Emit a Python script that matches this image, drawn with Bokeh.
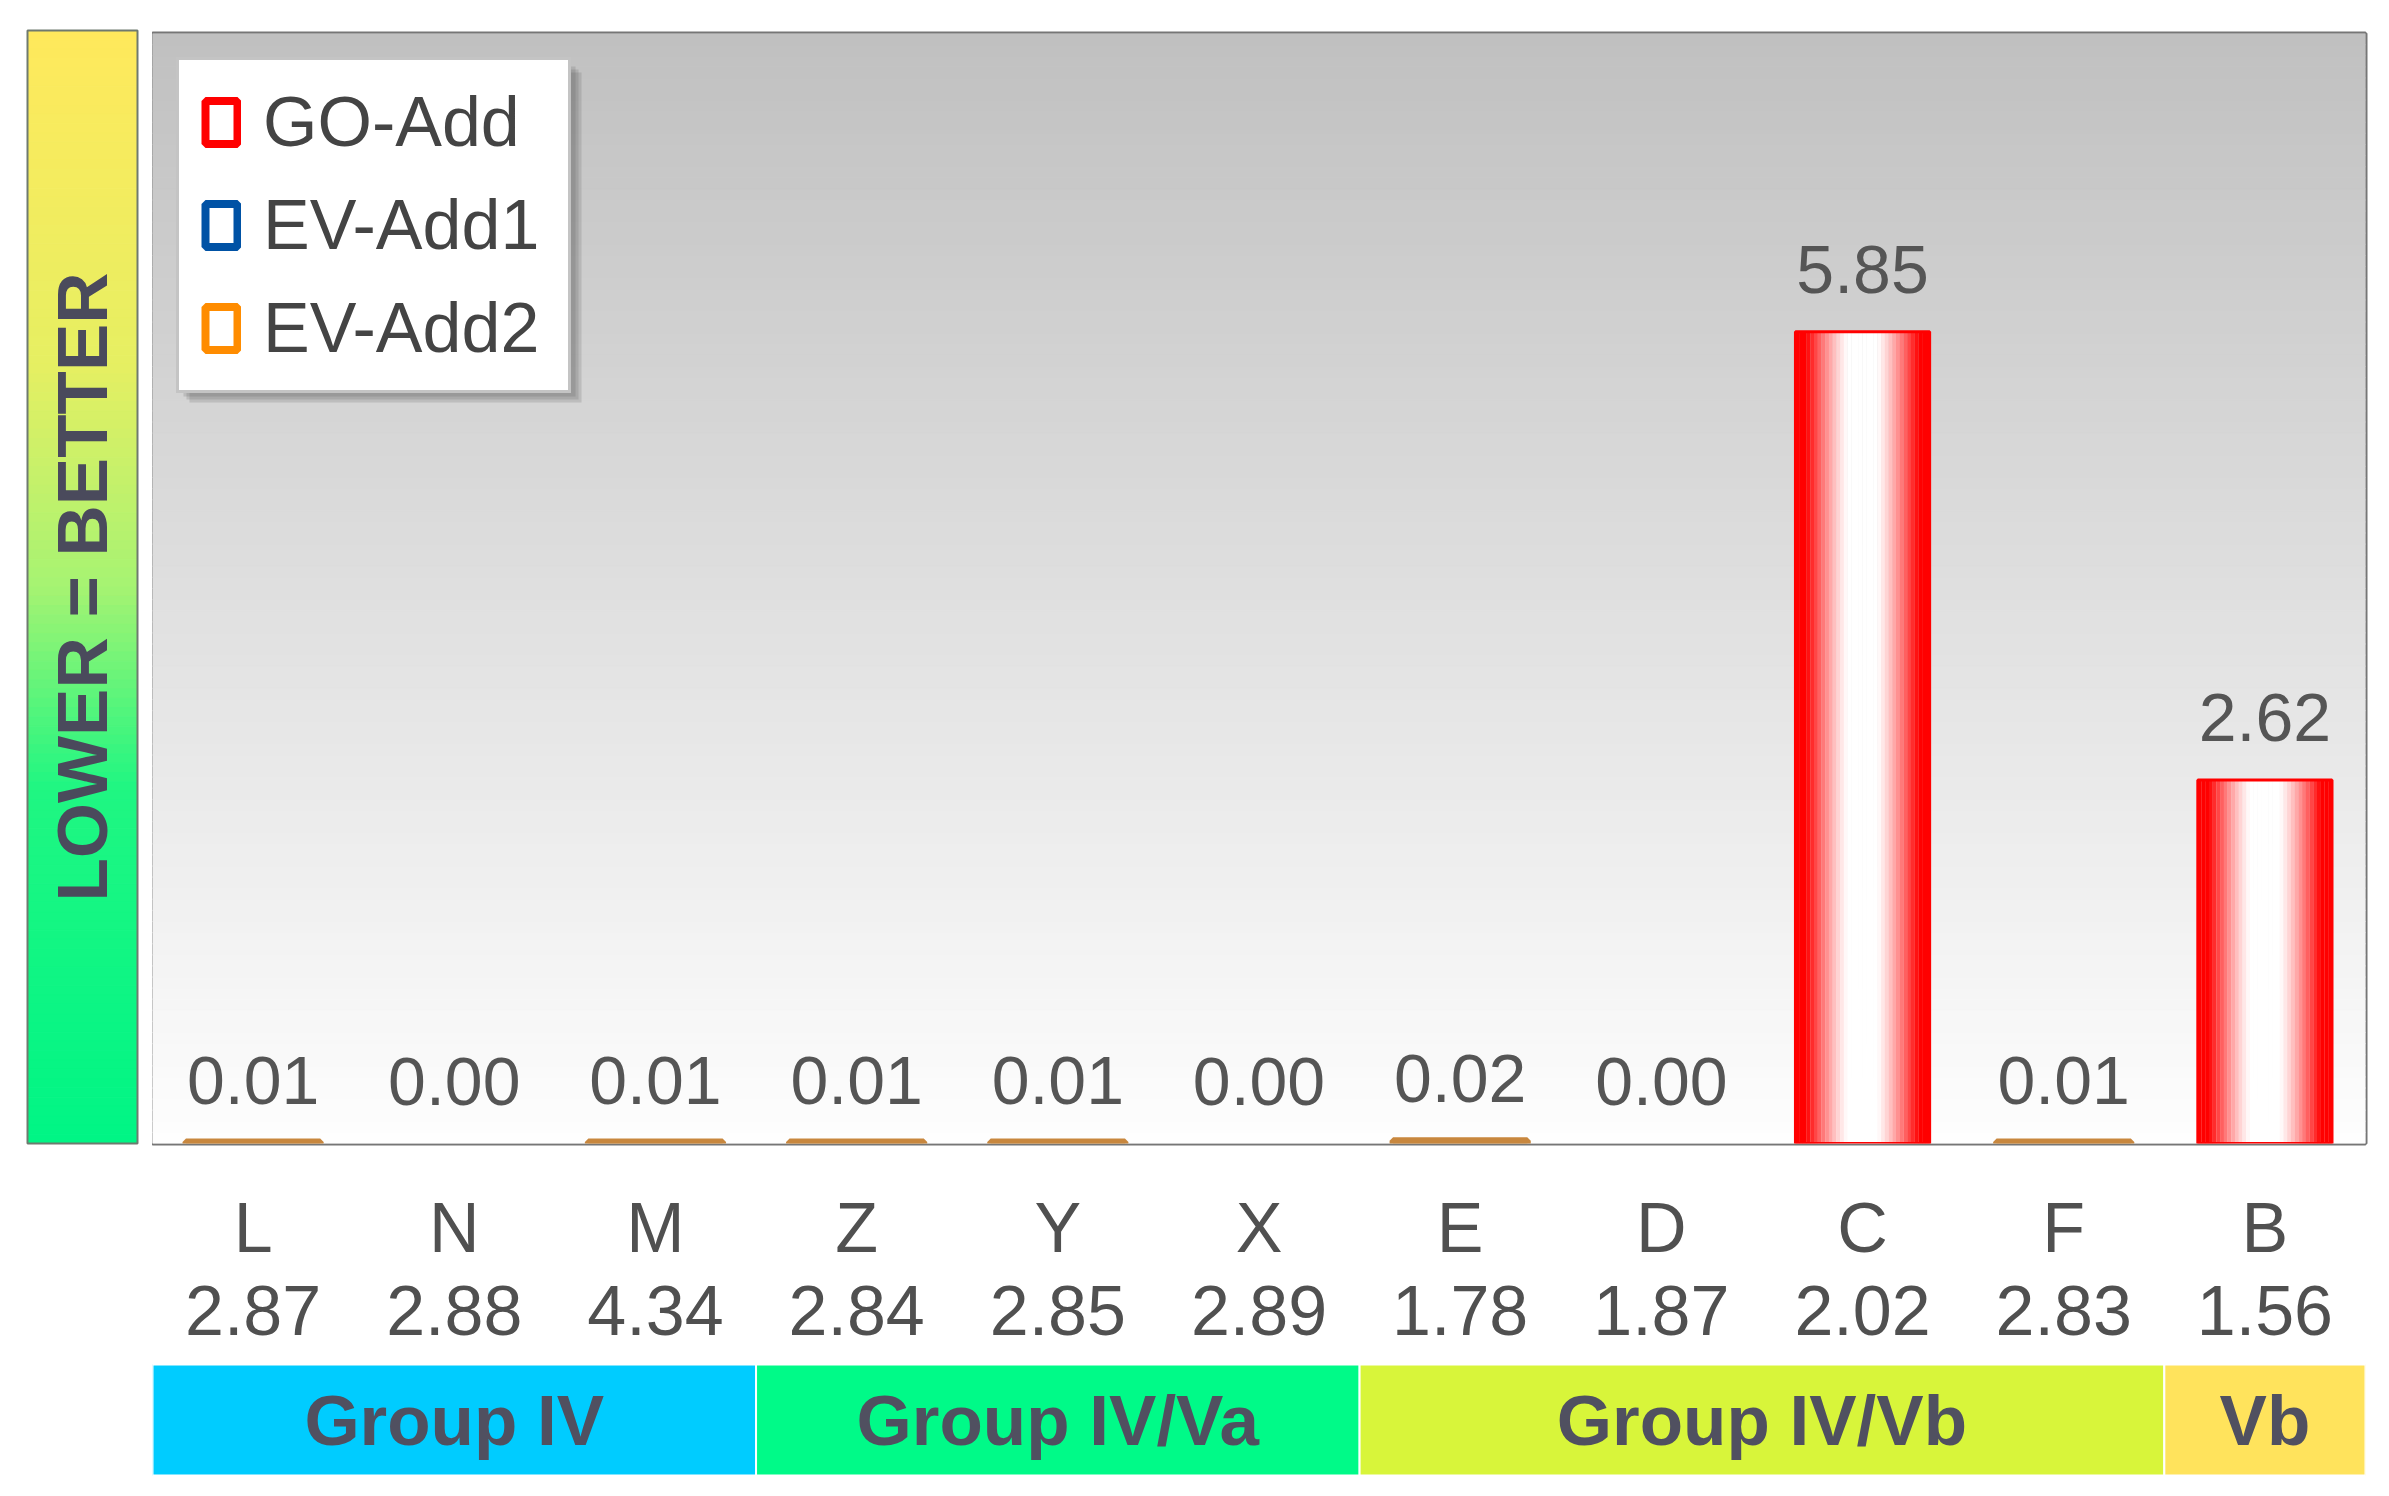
import numpy as np
from bokeh.plotting import figure
from bokeh.models import ColumnDataSource, Range1d, Legend, LegendItem
from bokeh.layouts import row, column
from bokeh.embed import file_html
from bokeh.resources import INLINE
from bokeh.core.properties import value

# ---------------- data ----------------
categories = ["L", "N", "M", "Z", "Y", "X", "E", "D", "C", "F", "B"]
bar_values = [0.01, 0.00, 0.01, 0.01, 0.01, 0.00, 0.02, 0.00, 5.85, 0.01, 2.62]
bar_series = ["EV-Add2"] * 8 + ["GO-Add", "EV-Add2", "GO-Add"]
category_scores = [2.87, 2.88, 4.34, 2.84, 2.85, 2.89, 1.78, 1.87, 2.02, 2.83, 1.56]
group_names = ["Group IV", "Group IV/Va", "Group IV/Vb", "Vb"]
group_sizes = [3, 3, 4, 1]
group_colors = ["#00CCFF", "#00FA88", "#D8F53A", "#FFE35C"]
series_names = ["GO-Add", "EV-Add1", "EV-Add2"]
series_colors = ["#FF0000", "#0052A5", "#FF8C00"]
small_bar_color = "#C8873E"
y_max = 8
side_label = "LOWER = BETTER"

FONT = "Liberation Sans"


def hex2rgb(h):
    h = h.lstrip("#")
    return np.array([int(h[i:i + 2], 16) for i in (0, 2, 4)], dtype=float)


def mix(c1, c2, t):
    a, b = hex2rgb(c1), hex2rgb(c2)
    c = a + (b - a) * t
    return "#%02x%02x%02x" % tuple(int(round(v)) for v in c)


n_cat = len(categories)
centers = [i + 0.5 for i in range(n_cat)]
bar_w = 0.667

# frame geometry (pixels)
FRAME_W, FRAME_H = 2213, 1110
px_x = n_cat / FRAME_W
px_y = y_max / FRAME_H

# ---------------- main plot ----------------
p = figure(width=2229, height=1150, x_range=Range1d(0, n_cat), y_range=Range1d(0, y_max),
           output_backend="svg", toolbar_location=None,
           x_axis_location=None, y_axis_location=None,
           min_border_left=0, min_border_right=16, min_border_top=33, min_border_bottom=7)
p.grid.visible = False
p.outline_line_color = "#767676"
p.outline_line_width = 4
p.background_fill_color = "white"
p.border_fill_color = "white"

# vertical gray gradient background
nstr = 100
edges = np.linspace(0, y_max, nstr + 1)
bg = ColumnDataSource(dict(
    left=[0] * nstr, right=[n_cat] * nstr,
    bottom=edges[:-1], top=edges[1:],
    color=[mix("#FEFEFE", "#C0C0C0", (edges[k] + edges[k + 1]) / 2 / y_max) for k in range(nstr)]))
p.quad(left="left", right="right", bottom="bottom", top="top", fill_color="color",
       line_color="color", line_width=1, source=bg)

# GO-Add bars: horizontal red-white-red gradient
ns = 36
sx, stop, sw, sc = [], [], [], []
for i, (v, s) in enumerate(zip(bar_values, bar_series)):
    if s != "GO-Add":
        continue
    for k in range(ns):
        f = (k + 0.5) / ns
        t = abs(f - 0.5) * 2
        inten = min(1.0, max(0.0, (t - 0.22) / 0.62)) ** 1.2
        sx.append(centers[i] - bar_w / 2 + f * bar_w)
        stop.append(v)
        sw.append(bar_w / ns * 1.05)
        sc.append(mix("#FFFFFF", "#FF0000", inten))
p.vbar(x=sx, top=stop, width=sw, bottom=0, fill_color=sc, line_color=None)
go_x = [centers[i] for i, s in enumerate(bar_series) if s == "GO-Add"]
go_v = [bar_values[i] for i, s in enumerate(bar_series) if s == "GO-Add"]
p.vbar(x=go_x, top=go_v, width=bar_w, bottom=0, fill_color=None, line_color="#FF0000", line_width=3)

# small bars
sm_x = [centers[i] for i, s in enumerate(bar_series) if s != "GO-Add" and bar_values[i] > 0]
sm_v = [bar_values[i] for i, s in enumerate(bar_series) if s != "GO-Add" and bar_values[i] > 0]
p.vbar(x=sm_x, top=sm_v, width=bar_w, bottom=0, fill_color=small_bar_color,
       line_color=small_bar_color, line_width=7)

# value labels
p.text(x=centers, y=bar_values, text=["%.2f" % v for v in bar_values],
       text_align="center", text_baseline="middle", y_offset=-62,
       text_font=value(FONT), text_font_size="68px", text_color="#555555")

# legend drop shadow (decorative, pixel offsets inside the frame)
lg_l, lg_t, lg_w, lg_h = 26, 28, 392, 330
for k, off in enumerate([11, 8, 5]):
    p.quad(left=[(lg_l + off) * px_x], right=[(lg_l + lg_w + off) * px_x],
           top=[y_max - (lg_t + off) * px_y], bottom=[y_max - (lg_t + lg_h + off) * px_y],
           fill_color="#555555", fill_alpha=0.18, line_color=None)

# legend (dummy renderers with no visible data)
items = []
for name, col in zip(series_names, series_colors):
    r = p.vbar(x=[float("nan")], top=[float("nan")], width=0.5, fill_color="white",
               line_color=col, line_width=8)
    items.append(LegendItem(label=name, renderers=[r]))
legend = Legend(items=items, location="top_left", margin=24, padding=22, spacing=23,
                glyph_width=40, glyph_height=54, label_height=80, label_width=283,
                label_standoff=22,
                label_text_font=FONT, label_text_font_size="70px", label_text_color="#444444",
                border_line_color="#8a8a8a", border_line_width=3,
                background_fill_color="white", background_fill_alpha=1.0)
p.add_layout(legend)

# ---------------- left strip ----------------
lf = figure(width=152, height=1150, x_range=Range1d(0, 152), y_range=Range1d(1150, 0),
            output_backend="svg", toolbar_location=None,
            x_axis_location=None, y_axis_location=None, min_border=0)
lf.grid.visible = False
lf.outline_line_color = None
lf.border_fill_color = "white"
lf.background_fill_color = "white"
s_top, s_bot, s_l, s_r = 30, 1143, 27, 137
stops = [(0.0, "#FFE95C"), (0.3, "#E6EF62"), (0.5, "#A6F372"), (0.68, "#20F682"), (1.0, "#00F585")]


def grad(t):
    for (t0, c0), (t1, c1) in zip(stops[:-1], stops[1:]):
        if t <= t1:
            return mix(c0, c1, (t - t0) / (t1 - t0))
    return stops[-1][1]


nl = 120
ye = np.linspace(s_top, s_bot, nl + 1)
lf.quad(left=[s_l] * nl, right=[s_r] * nl, top=ye[:-1], bottom=ye[1:],
        fill_color=[grad((k + 0.5) / nl) for k in range(nl)],
        line_color=[grad((k + 0.5) / nl) for k in range(nl)], line_width=1)
lf.quad(left=[s_l], right=[s_r], top=[s_top], bottom=[s_bot], fill_color=None,
        line_color="#6f7a6f", line_width=2)
lf.text(x=[(s_l + s_r) / 2], y=[(s_top + s_bot) / 2], text=[side_label], angle=np.pi / 2,
        text_align="center", text_baseline="middle", text_font=value(FONT),
        text_font_size="71px", text_font_style="bold", text_color="#4a4a5c")

# ---------------- bottom labels + groups ----------------
bf = figure(width=2229, height=330, x_range=p.x_range, y_range=Range1d(330, 0),
            output_backend="svg", toolbar_location=None,
            x_axis_location=None, y_axis_location=None,
            min_border_left=0, min_border_right=16, min_border_top=0, min_border_bottom=0)
bf.grid.visible = False
bf.outline_line_color = None
bf.border_fill_color = "white"
bf.background_fill_color = "white"

bf.text(x=centers, y=[77] * n_cat, text=categories, text_align="center",
        text_baseline="middle", text_font=value(FONT), text_font_size="70px",
        text_color="#505050")
bf.text(x=centers, y=[160] * n_cat, text=["%.2f" % v for v in category_scores],
        text_align="center", text_baseline="middle", text_font=value(FONT),
        text_font_size="70px", text_color="#505050")

starts = np.cumsum([0] + group_sizes[:-1])
ends = np.cumsum(group_sizes)
bf.quad(left=starts, right=ends, top=[214] * len(group_sizes), bottom=[325] * len(group_sizes),
        fill_color=group_colors, line_color="white", line_width=2)
bf.text(x=[(a + b) / 2 for a, b in zip(starts, ends)], y=[270] * len(group_sizes),
        text=group_names, text_align="center", text_baseline="middle",
        text_font=value(FONT), text_font_size="71px", text_font_style="bold",
        text_color="#505060")

layout = row(lf, column(p, bf))
open("out.html", "w").write(file_html(layout, INLINE))
